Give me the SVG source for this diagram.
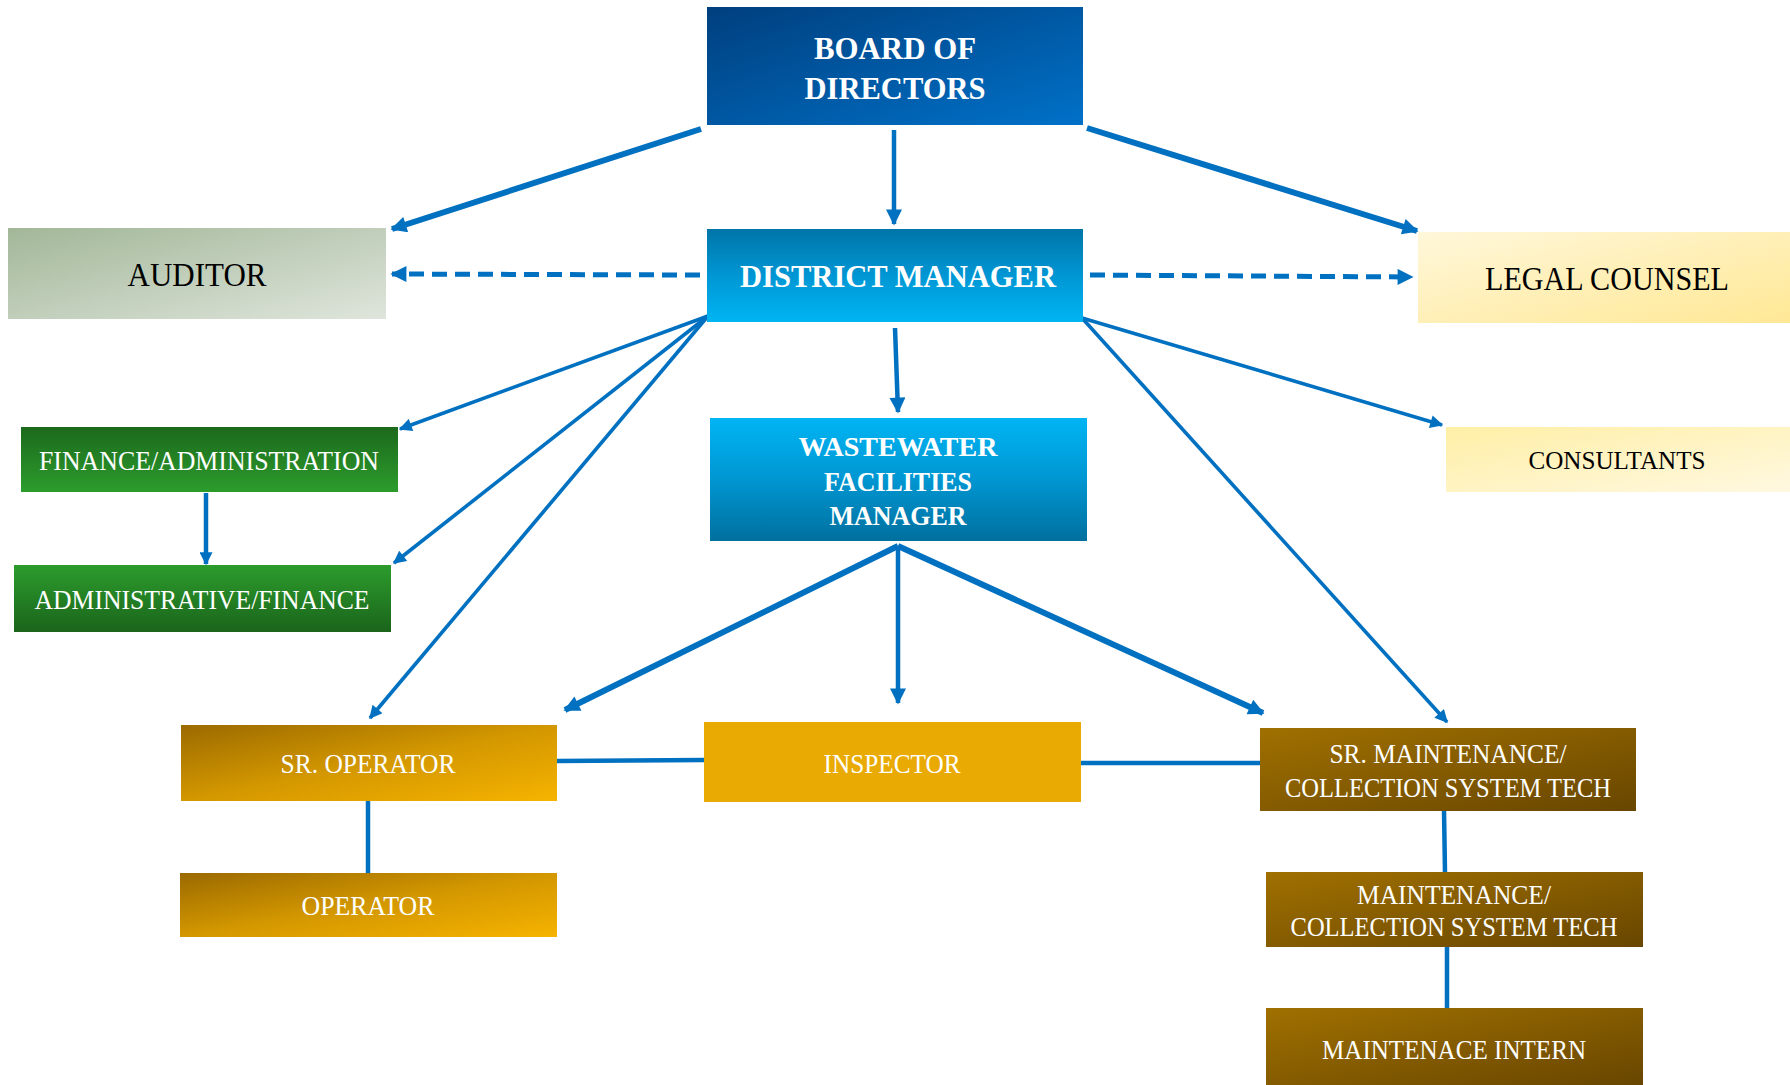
<svg xmlns="http://www.w3.org/2000/svg" width="1790" height="1085" viewBox="0 0 1790 1085">
<defs>
<linearGradient id="gBoard" x1="0" y1="0" x2="1" y2="1"><stop offset="0" stop-color="#003f7e"/><stop offset="1" stop-color="#0071c8"/></linearGradient>
<linearGradient id="gDM" x1="0" y1="0" x2="0" y2="1"><stop offset="0" stop-color="#0075a8"/><stop offset="0.5" stop-color="#0096d4"/><stop offset="1" stop-color="#00b5f2"/></linearGradient>
<linearGradient id="gWFM" x1="0" y1="0" x2="0" y2="1"><stop offset="0" stop-color="#00b5f4"/><stop offset="0.5" stop-color="#0096d2"/><stop offset="1" stop-color="#00709e"/></linearGradient>
<linearGradient id="gAud" x1="0" y1="0" x2="1" y2="1"><stop offset="0" stop-color="#a2b798"/><stop offset="1" stop-color="#dfe5dc"/></linearGradient>
<linearGradient id="gLegal" x1="0" y1="0" x2="1" y2="1"><stop offset="0" stop-color="#fff7da"/><stop offset="1" stop-color="#ffe895"/></linearGradient>
<linearGradient id="gCons" x1="0" y1="0" x2="1" y2="1"><stop offset="0" stop-color="#ffefa6"/><stop offset="1" stop-color="#fff8e0"/></linearGradient>
<linearGradient id="gFin" x1="0" y1="0" x2="0" y2="1"><stop offset="0" stop-color="#1c691c"/><stop offset="1" stop-color="#2c9c2c"/></linearGradient>
<linearGradient id="gAdm" x1="0" y1="0" x2="0" y2="1"><stop offset="0" stop-color="#2c9c2c"/><stop offset="1" stop-color="#1b641b"/></linearGradient>
<linearGradient id="gOp" x1="0" y1="0" x2="1" y2="1"><stop offset="0" stop-color="#9b6a00"/><stop offset="0.5" stop-color="#d39700"/><stop offset="1" stop-color="#f6b300"/></linearGradient>
<linearGradient id="gMt" x1="0" y1="0" x2="1" y2="1"><stop offset="0" stop-color="#a07000"/><stop offset="1" stop-color="#684600"/></linearGradient>
<marker id="ah" viewBox="0 0 10 10" refX="9" refY="5" markerWidth="20" markerHeight="16" markerUnits="userSpaceOnUse" orient="auto"><path d="M0,0 L10,5 L0,10 Z" fill="#0070c0"/></marker>
<marker id="ahs" viewBox="0 0 10 10" refX="9" refY="5" markerWidth="16" markerHeight="13" markerUnits="userSpaceOnUse" orient="auto"><path d="M0,0 L10,5 L0,10 Z" fill="#0070c0"/></marker>
</defs>
<style>
.c{fill:none;stroke:#0070c0;stroke-linecap:butt}
.tk{stroke-width:6}
.md{stroke-width:4.5}
.tn{stroke-width:3.6}
.d{stroke-dasharray:15 8;stroke-width:5}
.w{fill:#ffffff;font-family:"Liberation Serif","DejaVu Serif",serif;text-anchor:middle}
.k{fill:#000000;font-family:"Liberation Serif","DejaVu Serif",serif;text-anchor:middle}
.b{font-weight:bold}
</style>
<g id="connectors">
<line class="c tk" x1="701" y1="129" x2="392" y2="229" marker-end="url(#ah)"/>
<line class="c md" x1="894" y1="130" x2="894" y2="224" marker-end="url(#ah)"/>
<line class="c tk" x1="1087" y1="128" x2="1417" y2="231" marker-end="url(#ah)"/>
<line class="c d" x1="700" y1="275" x2="392" y2="274" marker-end="url(#ah)"/>
<line class="c d" x1="1090" y1="275" x2="1412" y2="277" marker-end="url(#ah)"/>
<line class="c tn" x1="708" y1="316" x2="400" y2="429" marker-end="url(#ahs)"/>
<line class="c tn" x1="708" y1="316" x2="394" y2="563" marker-end="url(#ahs)"/>
<line class="c tn" x1="708" y1="316" x2="370" y2="718" marker-end="url(#ahs)"/>
<line class="c md" x1="895" y1="328" x2="898" y2="412" marker-end="url(#ah)"/>
<line class="c tn" x1="1082" y1="318" x2="1442" y2="425" marker-end="url(#ahs)"/>
<line class="c tn" x1="1082" y1="318" x2="1447" y2="722" marker-end="url(#ahs)"/>
<line class="c md" x1="206" y1="493" x2="206" y2="564" marker-end="url(#ahs)"/>
<line class="c tk" x1="898" y1="546" x2="565" y2="710" marker-end="url(#ah)"/>
<line class="c md" x1="898" y1="546" x2="898" y2="703" marker-end="url(#ah)"/>
<line class="c tk" x1="898" y1="546" x2="1263" y2="713" marker-end="url(#ah)"/>
<line class="c md" x1="557" y1="761" x2="704" y2="760"/>
<line class="c md" x1="1081" y1="763" x2="1263" y2="763"/>
<line class="c md" x1="368" y1="799" x2="368" y2="874"/>
<line class="c md" x1="1444" y1="810" x2="1445" y2="873"/>
<line class="c md" x1="1447" y1="947" x2="1447" y2="1013"/>
</g>
<g id="board"><rect x="707" y="7" width="376" height="118" fill="url(#gBoard)"/>
<text class="w b" x="895" y="59" font-size="32" textLength="162" lengthAdjust="spacingAndGlyphs">BOARD OF</text>
<text class="w b" x="895" y="99" font-size="32" textLength="181" lengthAdjust="spacingAndGlyphs">DIRECTORS</text></g>
<g id="auditor"><rect x="8" y="228" width="378" height="91" fill="url(#gAud)"/>
<text class="k" x="197" y="286" font-size="34" textLength="139" lengthAdjust="spacingAndGlyphs">AUDITOR</text></g>
<g id="district-manager"><rect x="707" y="229" width="376" height="93" fill="url(#gDM)"/>
<text class="w b" x="898" y="287" font-size="32" textLength="316" lengthAdjust="spacingAndGlyphs">DISTRICT MANAGER</text></g>
<g id="legal-counsel"><rect x="1418" y="232" width="372" height="91" fill="url(#gLegal)"/>
<text class="k" x="1607" y="290" font-size="34" textLength="244" lengthAdjust="spacingAndGlyphs">LEGAL COUNSEL</text></g>
<g id="finance-administration"><rect x="21" y="427" width="377" height="65" fill="url(#gFin)"/>
<text class="w" x="209" y="470" font-size="27" textLength="340" lengthAdjust="spacingAndGlyphs">FINANCE/ADMINISTRATION</text></g>
<g id="administrative-finance"><rect x="14" y="565" width="377" height="67" fill="url(#gAdm)"/>
<text class="w" x="202" y="609" font-size="27" textLength="335" lengthAdjust="spacingAndGlyphs">ADMINISTRATIVE/FINANCE</text></g>
<g id="wastewater-facilities-manager"><rect x="710" y="418" width="377" height="123" fill="url(#gWFM)"/>
<text class="w b" x="898" y="456" font-size="28" textLength="199" lengthAdjust="spacingAndGlyphs">WASTEWATER</text>
<text class="w b" x="898" y="491" font-size="28" textLength="148" lengthAdjust="spacingAndGlyphs">FACILITIES</text>
<text class="w b" x="898" y="525" font-size="28" textLength="137" lengthAdjust="spacingAndGlyphs">MANAGER</text></g>
<g id="consultants"><rect x="1446" y="427" width="344" height="65" fill="url(#gCons)"/>
<text class="k" x="1617" y="469" font-size="26" textLength="177" lengthAdjust="spacingAndGlyphs">CONSULTANTS</text></g>
<g id="sr-operator"><rect x="181" y="725" width="376" height="76" fill="url(#gOp)"/>
<text class="w" x="368" y="773" font-size="27" textLength="175" lengthAdjust="spacingAndGlyphs">SR. OPERATOR</text></g>
<g id="operator"><rect x="180" y="873" width="377" height="64" fill="url(#gOp)"/>
<text class="w" x="368" y="915" font-size="27" textLength="133" lengthAdjust="spacingAndGlyphs">OPERATOR</text></g>
<g id="inspector"><rect x="704" y="722" width="377" height="80" fill="#e9aa03"/>
<text class="w" x="892" y="773" font-size="27" textLength="137" lengthAdjust="spacingAndGlyphs">INSPECTOR</text></g>
<g id="sr-maintenance"><rect x="1260" y="728" width="376" height="83" fill="url(#gMt)"/>
<text class="w" x="1448" y="763" font-size="27" textLength="237" lengthAdjust="spacingAndGlyphs">SR. MAINTENANCE/</text>
<text class="w" x="1448" y="797" font-size="27" textLength="326" lengthAdjust="spacingAndGlyphs">COLLECTION SYSTEM TECH</text></g>
<g id="maintenance"><rect x="1266" y="872" width="377" height="75" fill="url(#gMt)"/>
<text class="w" x="1454" y="904" font-size="27" textLength="194" lengthAdjust="spacingAndGlyphs">MAINTENANCE/</text>
<text class="w" x="1454" y="936" font-size="27" textLength="327" lengthAdjust="spacingAndGlyphs">COLLECTION SYSTEM TECH</text></g>
<g id="maintenance-intern"><rect x="1266" y="1008" width="377" height="77" fill="url(#gMt)"/>
<text class="w" x="1454" y="1059" font-size="27" textLength="264" lengthAdjust="spacingAndGlyphs">MAINTENACE INTERN</text></g>
</svg>
